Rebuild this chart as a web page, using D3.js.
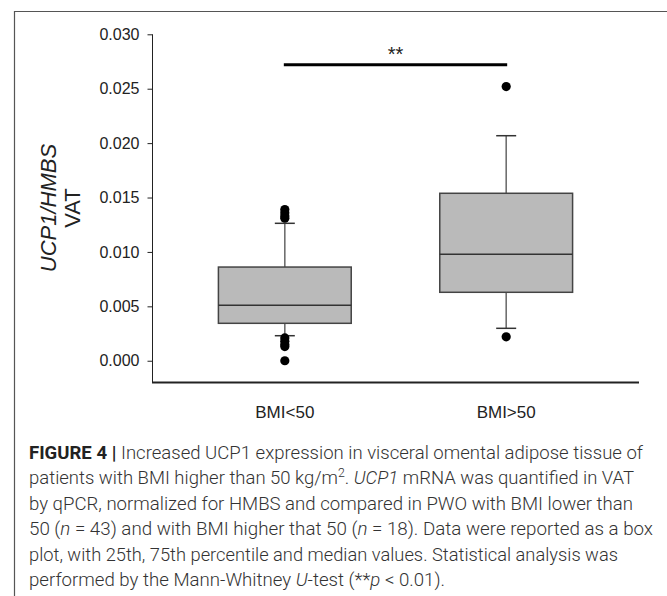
<!DOCTYPE html>
<html>
<head>
<meta charset="utf-8">
<script src="https://cdn.jsdelivr.net/npm/d3@7"></script>
<style>
  body { margin: 0; background: #fff; }
  svg { display: block; }
</style>
</head>
<body>
<script>
// box plot summaries
const groups = ["BMI<50", "BMI>50"];
const q1 = [0.00344, 0.00629];
const median = [0.00509, 0.00978];
const q3 = [0.00861, 0.01539];
const whiskerLow = [0.00230, 0.00298];
const whiskerHigh = [0.01263, 0.02068];
const outliers = [
  [0.0139, 0.0136, 0.0133, 0.0131, 0.0021, 0.0018, 0.0015, 0.0013, 0.0000],
  [0.0252, 0.0022]
];
const yTicks = [0, 0.005, 0.010, 0.015, 0.020, 0.025, 0.030];
const sigLevel = 0.0272;

const width = 667, height = 596;

const svg = d3.select("body").append("svg")
    .attr("width", width)
    .attr("height", height)
    .attr("viewBox", [0, 0, width, height]);

// frame of the figure panel
svg.append("path")
    .attr("d", `M${width},11.5H14.5V${height}`)
    .attr("fill", "none")
    .attr("stroke", "#555")
    .attr("stroke-width", 1.2);

const y = d3.scaleLinear()
    .domain([-0.002, 0.030])
    .range([382.5, 34.3]);

const x = d3.scalePoint()
    .domain(groups)
    .range([152, 639])
    .padding(0.6);

const boxW = x.step() * 0.6;
const capW = 20;

const yAxis = g => g
    .attr("transform", "translate(152.5,0)")
    .call(d3.axisLeft(y).tickValues(yTicks).tickFormat(d3.format(".3f")).tickSize(5).tickPadding(8))
    .call(g => g.select(".domain").attr("d", `M0,${y(0.030)}V${y(-0.002)}`).attr("stroke", "#222"))
    .call(g => g.selectAll(".tick line").attr("stroke", "#222"))
    .call(g => g.selectAll(".tick text")
        .attr("font-family", "'Liberation Sans', Arial, sans-serif")
        .attr("font-size", 16)
        .attr("fill", "#222"));

svg.append("g").call(yAxis);

// bottom axis line and category labels
svg.append("line")
    .attr("x1", 152).attr("x2", 639)
    .attr("y1", y(-0.002)).attr("y2", y(-0.002))
    .attr("stroke", "#222")
    .attr("stroke-width", 2);

svg.append("g")
    .attr("font-family", "'Liberation Sans', Arial, sans-serif")
    .attr("font-size", 17)
    .attr("fill", "#222")
    .attr("text-anchor", "middle")
  .selectAll("text")
  .data(groups)
  .join("text")
    .attr("x", d => x(d))
    .attr("y", 418)
    .text(d => d);

// y title
const ytitle = svg.append("g")
    .attr("font-family", "'Liberation Sans', Arial, sans-serif")
    .attr("font-size", 22)
    .attr("fill", "#222")
    .attr("text-anchor", "middle");
ytitle.append("text")
    .attr("transform", "translate(56,208) rotate(-90)")
    .attr("font-style", "italic")
    .text("UCP1/HMBS");
ytitle.append("text")
    .attr("transform", "translate(80,208) rotate(-90)")
    .text("VAT");

// boxes
const box = svg.append("g")
  .selectAll("g")
  .data(groups.map((g, i) => ({g, i})))
  .join("g");

box.append("line")
    .attr("x1", d => x(d.g)).attr("x2", d => x(d.g))
    .attr("y1", d => y(whiskerHigh[d.i])).attr("y2", d => y(q3[d.i]))
    .attr("stroke", "#666").attr("stroke-width", 1.5);
box.append("line")
    .attr("x1", d => x(d.g)).attr("x2", d => x(d.g))
    .attr("y1", d => y(q1[d.i])).attr("y2", d => y(whiskerLow[d.i]))
    .attr("stroke", "#666").attr("stroke-width", 1.5);
box.selectAll(".cap")
  .data(d => [whiskerHigh[d.i], whiskerLow[d.i]].map(v => ({g: d.g, v})))
  .join("line")
    .attr("class", "cap")
    .attr("x1", d => x(d.g) - capW / 2).attr("x2", d => x(d.g) + capW / 2)
    .attr("y1", d => y(d.v)).attr("y2", d => y(d.v))
    .attr("stroke", "#333").attr("stroke-width", 1.5);

box.append("rect")
    .attr("x", d => x(d.g) - boxW / 2)
    .attr("width", boxW)
    .attr("y", d => y(q3[d.i]))
    .attr("height", d => y(q1[d.i]) - y(q3[d.i]))
    .attr("fill", "#bababa")
    .attr("stroke", "#444")
    .attr("stroke-width", 1.5);

box.append("line")
    .attr("x1", d => x(d.g) - boxW / 2).attr("x2", d => x(d.g) + boxW / 2)
    .attr("y1", d => y(median[d.i])).attr("y2", d => y(median[d.i]))
    .attr("stroke", "#333").attr("stroke-width", 1.5);

box.selectAll("circle")
  .data(d => outliers[d.i].map(v => ({g: d.g, v})))
  .join("circle")
    .attr("cx", d => x(d.g))
    .attr("cy", d => y(d.v))
    .attr("r", 4.6)
    .attr("fill", "#000");

// significance bar
svg.append("line")
    .attr("x1", x(groups[0]) - 1).attr("x2", x(groups[1]) + 1)
    .attr("y1", y(sigLevel)).attr("y2", y(sigLevel))
    .attr("stroke", "#000")
    .attr("stroke-width", 3);
svg.append("text")
    .attr("x", (x(groups[0]) + x(groups[1])) / 2)
    .attr("y", y(sigLevel) - 4)
    .attr("text-anchor", "middle")
    .attr("font-family", "'Liberation Sans', Arial, sans-serif")
    .attr("font-size", 20)
    .attr("fill", "#222")
    .text("**");

// caption
const captionLines = [
  [["FIGURE 4 | ", "b"], ["Increased UCP1 expression in visceral omental adipose tissue of"]],
  [["patients with BMI higher than 50 kg/m"], ["2", "sup"], [". ", "after"], ["UCP1", "i"], [" mRNA was quantified in VAT"]],
  [["by qPCR, normalized for HMBS and compared in PWO with BMI lower than"]],
  [["50 ("], ["n", "i"], [" = 43) and with BMI higher that 50 ("], ["n", "i"], [" = 18). Data were reported as a box"]],
  [["plot, with 25th, 75th percentile and median values. Statistical analysis was"]],
  [["performed by the Mann-Whitney "], ["U", "i"], ["-test (**"], ["p", "i"], [" < 0.01)."]]
];
const captionRight = [643, 634, 633, 653, 618, 445];

const cap = svg.append("g")
    .attr("font-family", "Roboto, 'Liberation Sans', sans-serif")
    .attr("font-weight", 300)
    .attr("font-size", 18)
    .attr("fill", "#333");

captionLines.forEach((parts, i) => {
  const t = cap.append("text")
      .attr("x", 29)
      .attr("y", 459 + i * 25.4)
      .attr("textLength", captionRight[i] - 29)
      .attr("lengthAdjust", "spacingAndGlyphs");
  parts.forEach(([s, st]) => {
    const ts = t.append("tspan").text(s);
    if (st === "b") ts.attr("font-weight", 700).attr("fill", "#222");
    if (st === "i") ts.attr("font-style", "italic");
    if (st === "sup") ts.attr("font-size", 12).attr("dy", -7);
    if (st === "after") ts.attr("dy", 7);
  });
});
</script>
</body>
</html>
